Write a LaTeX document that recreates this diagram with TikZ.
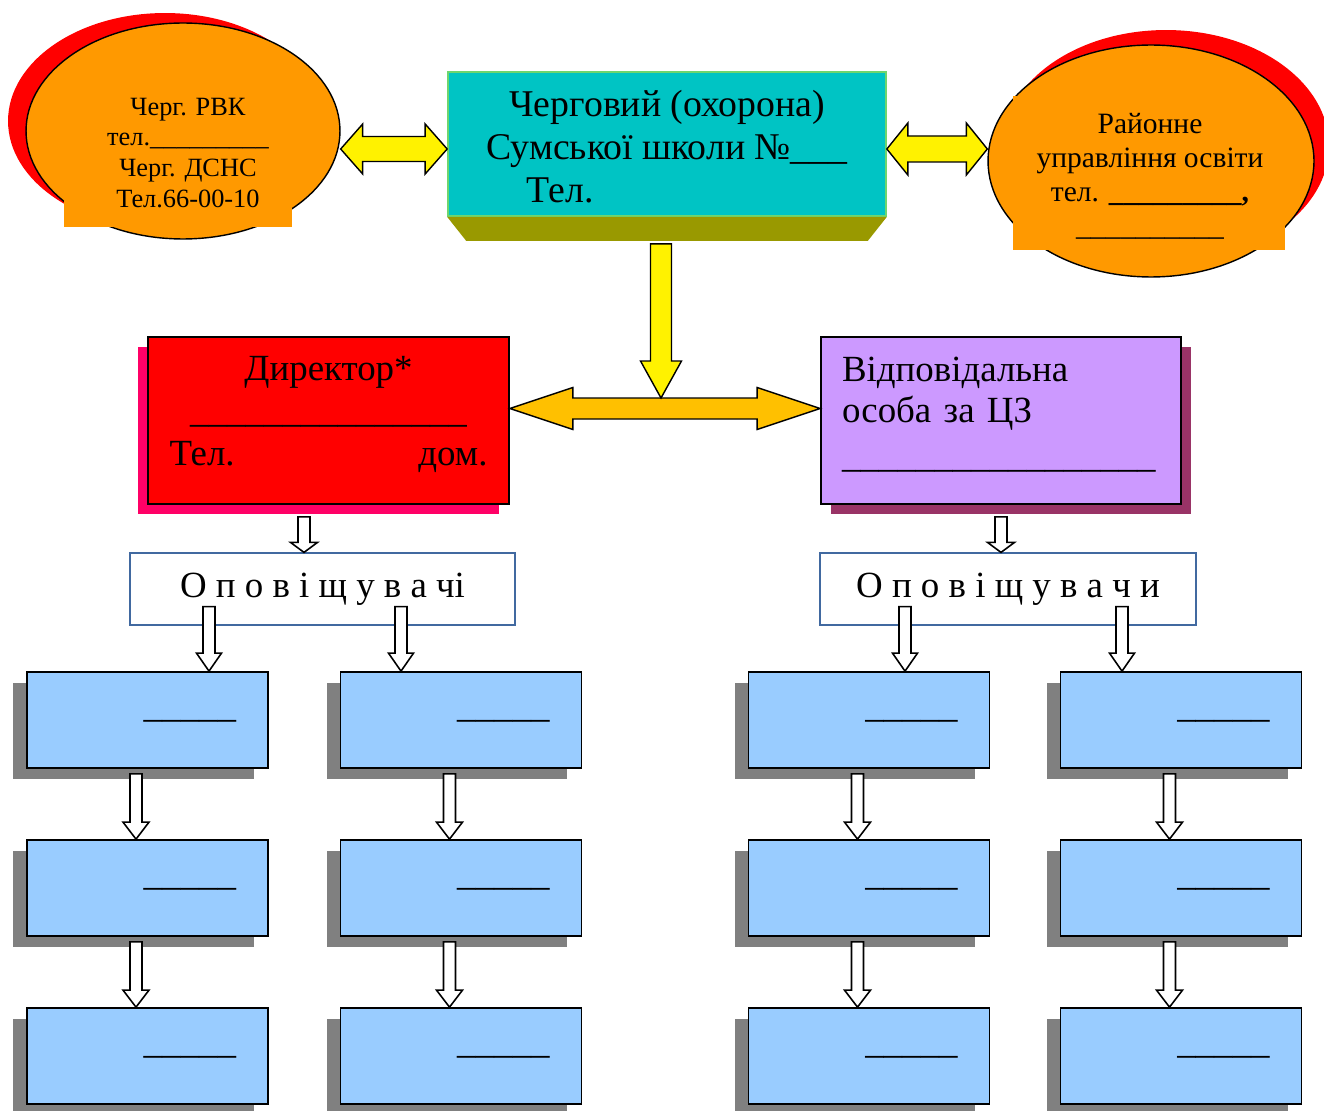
\documentclass[tikz,border=0pt]{standalone}
\usepackage{fontspec}
\setmainfont{Liberation Serif}
\usetikzlibrary{shapes.geometric,shadows,calc}

\definecolor{ovalfill}{RGB}{255,153,0}
\definecolor{dutyfill}{RGB}{0,196,196}
\definecolor{dutyline}{RGB}{110,214,110}
\definecolor{bevelfill}{RGB}{153,153,0}
\definecolor{linkfill}{RGB}{255,192,0}
\definecolor{dirshadow}{RGB}{255,0,102}
\definecolor{respfill}{RGB}{204,153,255}
\definecolor{respshadow}{RGB}{153,51,102}
\definecolor{opline}{RGB}{65,105,160}
\definecolor{cellfill}{RGB}{153,204,255}

\newcommand{\blkarrow}[6]{%
  \coordinate (ba) at ($(#3)!#6!(#2)$);
  \draw[#1] ($(#2)!#4!90:(#3)$) -- ($(ba)!#4!-90:(#2)$) -- ($(ba)!#5!-90:(#2)$) -- (#3)
    -- ($(ba)!#5!90:(#2)$) -- ($(ba)!#4!90:(#2)$) -- ($(#2)!#4!-90:(#3)$) -- cycle;}
\newcommand{\dblarrow}[6]{%
  \coordinate (da) at ($(#2)!#6!(#3)$);
  \coordinate (db) at ($(#3)!#6!(#2)$);
  \draw[#1] (#2) -- ($(da)!#5!90:(#3)$) -- ($(da)!#4!90:(#3)$) -- ($(db)!#4!-90:(#2)$)
    -- ($(db)!#5!-90:(#2)$) -- (#3) -- ($(db)!#5!90:(#2)$) -- ($(db)!#4!90:(#2)$)
    -- ($(da)!#4!-90:(#3)$) -- ($(da)!#5!-90:(#3)$) -- cycle;}

\tikzset{
  oval/.style={ellipse, draw=black, line width=0.8pt, fill=ovalfill},
  ovaltext/.style={align=center, inner sep=0pt, font=\fontsize{15}{17.6}\selectfont},
  dutybox/.style={rectangle, draw=dutyline, line width=1pt, fill=dutyfill, minimum width=8.76cm,
    minimum height=2.88cm, align=left, font=\fontsize{21.5}{24.3}\selectfont},
  dirbox/.style={rectangle, draw=black, line width=1pt, fill=red, minimum width=7.22cm,
    minimum height=3.34cm, text width=6.36cm, align=center, font=\fontsize{21}{24}\selectfont,
    drop shadow={shadow xshift=-0.2cm, shadow yshift=-0.2cm, fill=dirshadow, opacity=1}},
  respbox/.style={rectangle, draw=black, line width=1pt, fill=respfill, minimum width=7.2cm,
    minimum height=3.34cm, text width=6.36cm, align=left, font=\fontsize{21}{23.2}\selectfont,
    drop shadow={shadow xshift=0.2cm, shadow yshift=-0.2cm, fill=respshadow, opacity=1}},
  opbox/.style={rectangle, draw=opline, line width=0.7pt, fill=white, minimum height=1.44cm,
    font=\fontsize{21}{24}\selectfont},
  cell/.style={rectangle, draw=black, line width=1pt, fill=cellfill, minimum width=4.82cm,
    minimum height=1.92cm, text width=3.54cm, align=right, font=\fontsize{21}{24}\selectfont,
    drop shadow={shadow xshift=-0.28cm, shadow yshift=-0.22cm, fill=gray, opacity=1}},
  yarrow/.style={fill=yellow, draw=black, line width=0.8pt},
  oarrow/.style={fill=linkfill, draw=black, line width=0.8pt},
  warrow/.style={fill=white, draw=black, line width=0.9pt}
}

\begin{document}
\begin{tikzpicture}[x=0.02cm,y=-0.02cm]
\useasboundingbox (0,0) rectangle (1324,1111);

\node[oval, minimum width=6.28cm, minimum height=4.32cm,
  drop shadow={shadow xshift=-0.36cm, shadow yshift=0.2cm, fill=red, opacity=1}] (rvk) at (183,131) {};
\fill[ovalfill] (64,70) rectangle (292,227);
\node[ovaltext] (rvktxt) at (188,153) {Черг. РВК\\тел.\_\_\_\_\_\_\_\_\_\\Черг. ДСНС\\Тел.66-00-10};

\node[oval, minimum width=6.52cm, minimum height=4.64cm,
  drop shadow={shadow xshift=0.3cm, shadow yshift=0.3cm, fill=red, opacity=1}] (ruo) at (1151,161) {};
\fill[ovalfill] (1013,96) rectangle (1285,250);
\node[ovaltext, font=\fontsize{16.8}{19.3}\selectfont] (ruotxt) at (1150,176)
  {Районне\\управління освіти\\тел. \textbf{\_\_\_\_\_\_\_\_\_,}\\\_\_\_\_\_\_\_\_\_\_};

\node[dutybox] (duty) at (667,144)
  {\rule{0pt}{18pt}\hspace*{13pt}Черговий (охорона)\\Сумської школи №\_\_\_\\\hspace*{23pt}Тел.};
\fill[bevelfill] (duty.south west) -- (duty.south east) -- ++(-19,24)
  -- ($(duty.south west)+(19,24)$) -- cycle;

\node[dirbox] (dir) at (328.5,420.5)
  {Директор*\\\_\_\_\_\_\_\_\_\_\_\_\_\_\_\_\\Тел.\hfill дом.\rule[-11pt]{0pt}{11pt}};
\node[respbox] (resp) at (1001,420.5)
  {Відповідальна\\особа за ЦЗ\\[2.5pt]\_\_\_\_\_\_\_\_\_\_\_\_\_\_\_\_\_\rule[-9.5pt]{0pt}{9.5pt}};

\node[opbox, minimum width=7.7cm] (opL) at (322.5,589) {О п о в і щ у в а чі};
\node[opbox, minimum width=7.52cm] (opR) at (1008,589) {О п о в і щ у в а ч и};

\foreach \c/\x in {1/147.5,2/461,3/869,4/1181}
  \foreach \r/\y in {1/720,2/888,3/1056}
    \node[cell] (b\c\r) at (\x,\y) {\_\_\_\_\_};

\coordinate (yl1) at ($(rvk.east)+(0,18)$);
\coordinate (yl2) at ($(duty.west)+(0,5)$);
\dblarrow{yarrow}{yl1}{yl2}{0.25cm}{0.5cm}{0.44cm}
\coordinate (yr1) at ($(duty.east)+(0,5)$);
\coordinate (yr2) at ($(ruo.west)+(0,-12)$);
\dblarrow{yarrow}{yr1}{yr2}{0.26cm}{0.52cm}{0.42cm}

\coordinate (oL) at ($(dir.east)+(0,-12)$);
\coordinate (oR) at ($(resp.west)+(0,-12)$);
\dblarrow{oarrow}{oL}{oR}{0.21cm}{0.42cm}{1.26cm}
\coordinate (yT) at ($(duty.south)+(-6,27)$);
\coordinate (yB) at ($(oL)!(yT)!(oR)+(0,-10.5)$);
\blkarrow{yarrow}{yT}{yB}{0.21cm}{0.41cm}{0.74cm}

\coordinate (w1) at ($(dir.south)+(-24.5,12)$);
\coordinate (w2) at (w1 |- opL.north);
\blkarrow{warrow}{w1}{w2}{0.12cm}{0.27cm}{0.2cm}
\coordinate (w3) at ($(resp.south)+(0,12)$);
\coordinate (w4) at (w3 |- opR.north);
\blkarrow{warrow}{w3}{w4}{0.12cm}{0.27cm}{0.2cm}

\foreach \o/\dx/\b in {opL/-113.5/b11,opL/78.5/b21,opR/-103/b31,opR/114/b41}{
  \coordinate (p) at ($(\o.south)+(\dx,-19)$);
  \coordinate (q) at (p |- \b.north);
  \blkarrow{warrow}{p}{q}{0.12cm}{0.25cm}{0.36cm}
}
\foreach \c in {1,...,4}
  \foreach \r/\s in {1/2,2/3}{
    \coordinate (p) at ($(b\c\r.south)+(-11.5,5)$);
    \coordinate (q) at (p |- b\c\s.north);
    \blkarrow{warrow}{p}{q}{0.12cm}{0.26cm}{0.34cm}
  }
\end{tikzpicture}
\end{document}
